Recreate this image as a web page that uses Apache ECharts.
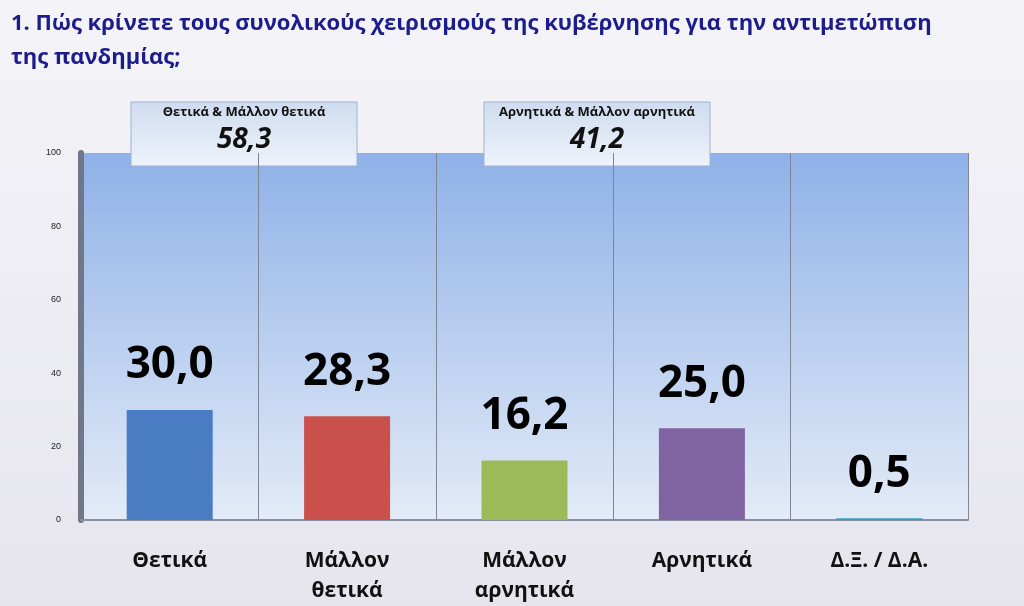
<!DOCTYPE html>
<html>
<head>
    <meta charset="UTF-8">
    <title>Πανδημία</title>
    <script src="https://cdn.jsdelivr.net/npm/echarts@6/dist/echarts.min.js"></script>
</head>
<body style="margin:0;overflow:hidden;background:#ecebf2;">
<div id="chart" style="width:1024px;height:606px;"></div>
<script type="text/javascript">
    var categories = ['Θετικά', 'Μάλλον\nθετικά', 'Μάλλον\nαρνητικά', 'Αρνητικά', 'Δ.Ξ. / Δ.Α.'];
    var values = [30.0, 28.3, 16.2, 25.0, 0.5];
    var barColors = ['#4a7cc4', '#c9504b', '#9bbb59', '#8064a2', '#2fa3b8'];
    var summaryTitles = ['Θετικά & Μάλλον θετικά', 'Αρνητικά & Μάλλον αρνητικά'];
    var summaryValues = ['58,3', '41,2'];

    var chart = echarts.init(document.getElementById('chart'));

    function box(x, title, value) {
        return {
            type: 'group', x: x, y: 102,
            children: [
                { type: 'rect', shape: { x: 0, y: 0, width: 226, height: 64 },
                  style: { fill: new echarts.graphic.LinearGradient(0, 0, 0, 1, [
                      { offset: 0, color: '#cfdcef' }, { offset: 1, color: '#eef3fa' }]),
                      stroke: '#9db2d4', lineWidth: 1 } },
                { type: 'text',
                  style: { x: 113, y: 4, text: title, fill: '#111', font: 'bold 13px "Open Sans"', textAlign: 'center' } },
                { type: 'text',
                  style: { x: 113, y: 24, text: value, fill: '#111', font: 'italic bold 28px "Open Sans"', textAlign: 'center' } }
            ]
        };
    }

    chart.setOption({
        backgroundColor: new echarts.graphic.LinearGradient(0, 0, 0, 1, [
            { offset: 0, color: '#f4f4f8' }, { offset: 1, color: '#e6e5ee' }]),
        title: {
            text: '1. Πώς κρίνετε τους συνολικούς χειρισμούς της κυβέρνησης για την αντιμετώπιση\nτης πανδημίας;',
            left: 6, top: 2,
            textStyle: { color: '#1c1c8c', fontSize: 22, fontWeight: 'bold', fontFamily: 'Open Sans', lineHeight: 34 }
        },
        grid: {
            left: 81, right: 56, top: 153, bottom: 81, show: true, borderWidth: 0,
            backgroundColor: new echarts.graphic.LinearGradient(0, 0, 0, 1, [
                { offset: 0, color: '#8fb1e8' }, { offset: 1, color: '#e3ebf7' }])
        },
        xAxis: {
            type: 'category', data: categories,
            axisLine: { lineStyle: { color: '#8a8fa0', width: 2 } },
            axisTick: { show: false },
            splitLine: { show: true, lineStyle: { color: '#7f8595', width: 1 } },
            axisLabel: { color: '#111', fontSize: 21, fontWeight: 'bold', fontFamily: 'Open Sans', margin: 26, lineHeight: 30, interval: 0 }
        },
        yAxis: {
            type: 'value', min: 0, max: 100, interval: 20,
            axisLine: { show: true, lineStyle: { color: '#6f7788', width: 6 } },
            axisTick: { show: false },
            splitLine: { show: false },
            axisLabel: { color: '#222', fontSize: 9, margin: 20 }
        },
        series: [{
            type: 'bar', barWidth: 86,
            data: values.map(function (v, i) { return { value: v, itemStyle: { color: barColors[i] } }; }),
            label: {
                show: true, position: 'top', distance: 22,
                formatter: function (p) { return p.value.toFixed(1).replace('.', ','); },
                color: '#000', fontSize: 44, fontWeight: 'bold', fontFamily: 'Open Sans'
            }
        }],
        graphic: [box(131, summaryTitles[0], summaryValues[0]), box(484, summaryTitles[1], summaryValues[1])]
    });
</script>
</body>
</html>
